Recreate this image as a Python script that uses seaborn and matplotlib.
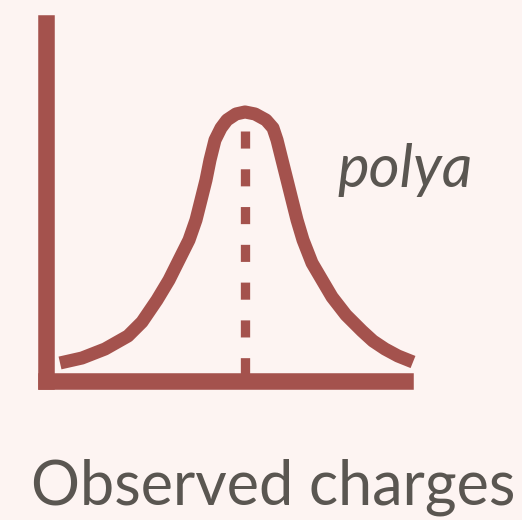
import matplotlib
matplotlib.use("Agg")
import matplotlib.pyplot as plt
import seaborn as sns

# polya curve (charge, density)
charge = [0.384, 0.997, 1.639, 2.280, 2.671, 3.089, 3.424, 3.703, 3.982, 4.177,
          4.317, 4.456, 4.568, 4.707, 4.874, 5.042, 5.293, 5.544, 5.823, 6.130,
          6.325, 6.437, 6.576, 6.716, 6.855, 6.995, 7.162, 7.413, 7.692, 7.971,
          8.361, 8.808, 9.114, 9.449, 9.812, 10.230]
density = [0.0497, 0.0636, 0.0888, 0.1252, 0.1643, 0.2259, 0.2818, 0.3378, 0.3937, 0.4497,
           0.5056, 0.5615, 0.6175, 0.6734, 0.7070, 0.7294, 0.7462, 0.7518, 0.7462, 0.7294,
           0.7070, 0.6734, 0.6175, 0.5615, 0.5056, 0.4497, 0.3937, 0.3294, 0.2818, 0.2343,
           0.1839, 0.1392, 0.1112, 0.0888, 0.0692, 0.0524]

# mean marker (dashed line)
mean_charge = [5.54, 5.54]
mean_level = [0.698, 0.0]

label_curve = "polya"
label_x = "Observed charges"

red = "#a4524d"
bg = "#fdf4f2"
grey = "#5a5651"

sns.set_theme(style="white", rc={"axes.facecolor": bg, "figure.facecolor": bg})
plt.rcParams["font.family"] = ["Lato", "DejaVu Sans"]
plt.rcParams["lines.scale_dashes"] = False

fig = plt.figure(figsize=(5.22, 5.20), dpi=100)
ax = fig.add_axes([0.0886, 0.2678, 0.6868, 0.6875])

sns.lineplot(x=charge, y=density, ax=ax, color=red, linewidth=9.4,
             estimator=None, sort=False, solid_capstyle="butt",
             solid_joinstyle="round", clip_on=False)

ax.plot(mean_charge, mean_level, color=red, linewidth=6.7,
        dashes=(12.3, 14.9), dash_capstyle="butt", clip_on=False)

ax.set_xlim(0, 10)
ax.set_ylim(0, 1)
ax.set_xticks([])
ax.set_yticks([])

for side in ["top", "right"]:
    ax.spines[side].set_visible(False)
for side in ["left", "bottom"]:
    ax.spines[side].set_color(red)
    ax.spines[side].set_linewidth(11.9)
    ax.spines[side].set_capstyle("projecting")

ax.text(10.02, 0.542, label_curve, style="italic", fontsize=43, color=grey,
        ha="center", va="baseline")

ax.set_xlabel(label_x, fontsize=44, color=grey, va="baseline")
ax.xaxis.set_label_coords(0.6325, -0.345)

fig.savefig("out.png", dpi=100, facecolor=bg)
